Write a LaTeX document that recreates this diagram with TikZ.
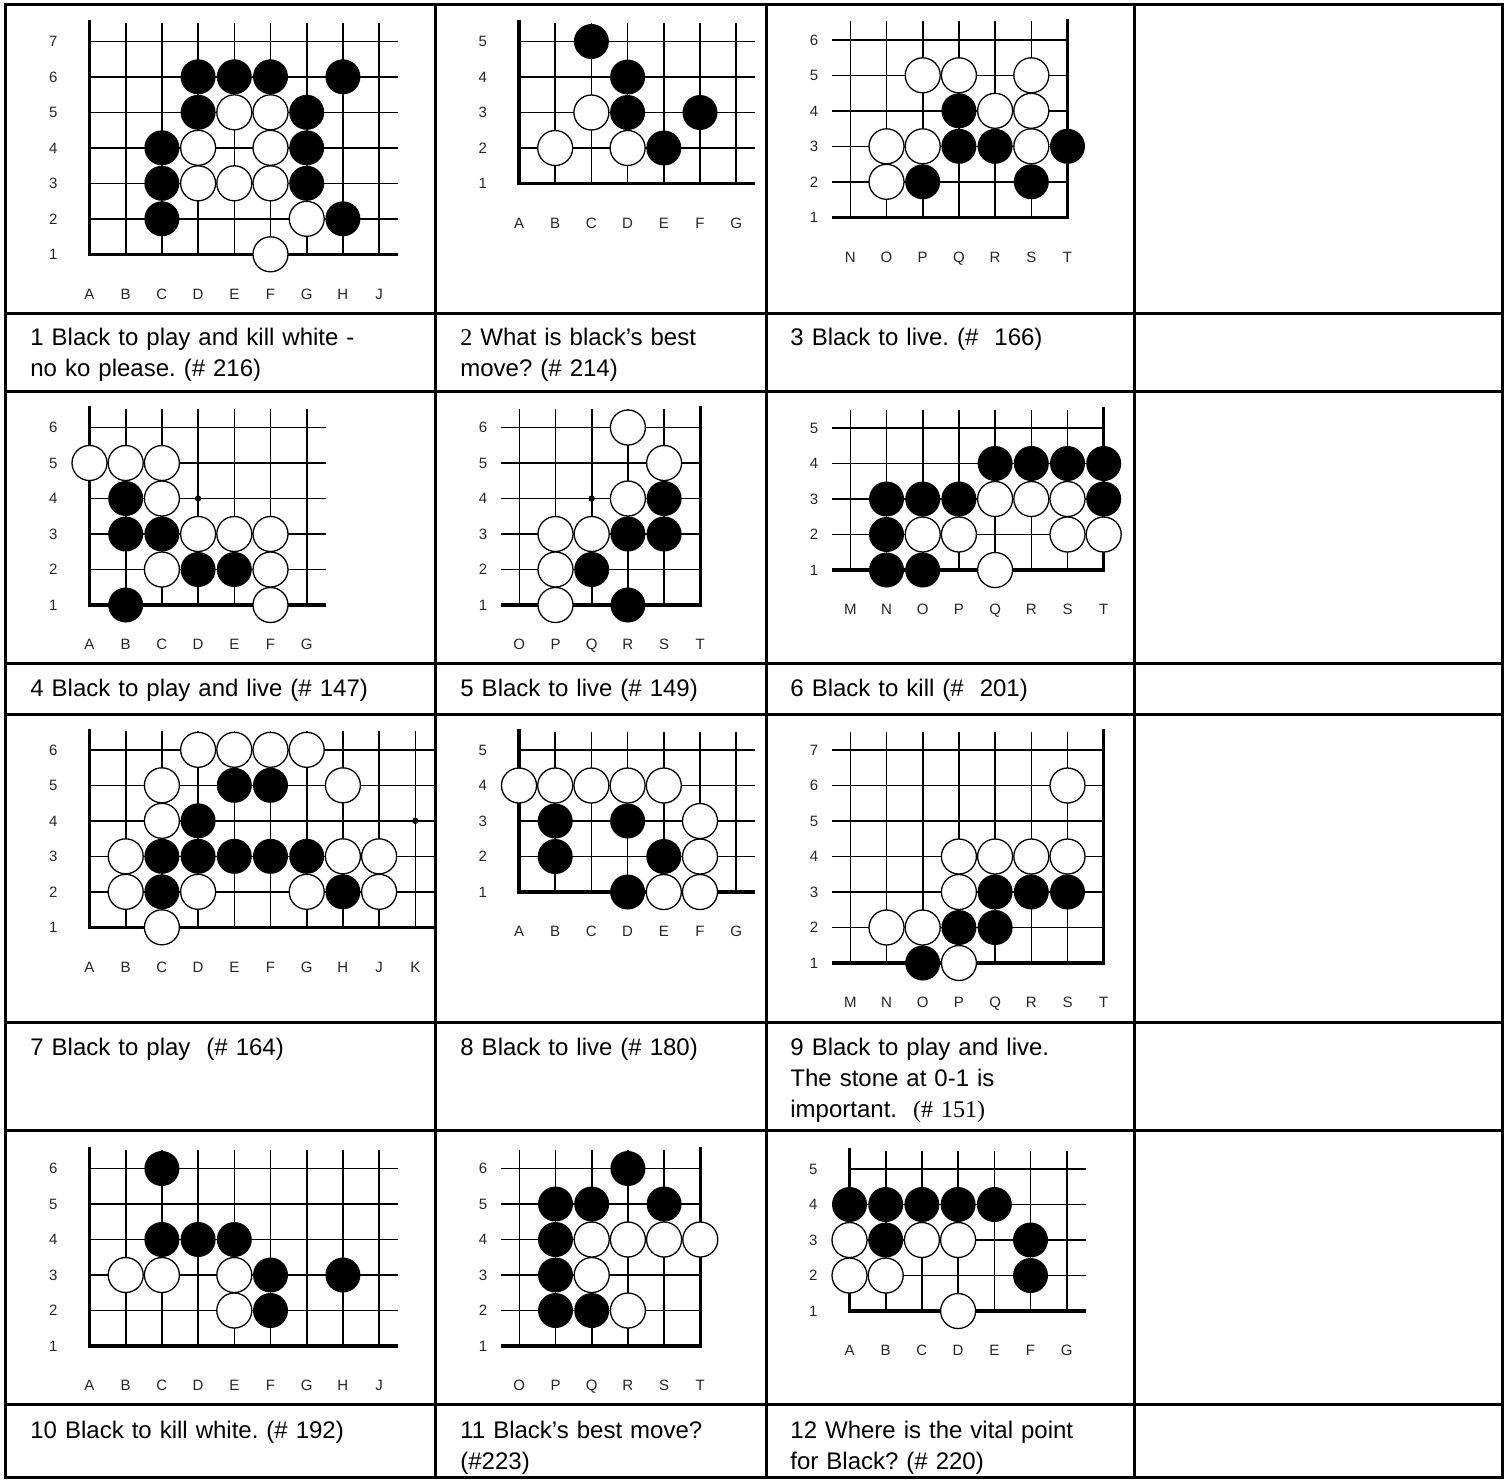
\documentclass[tikz,border=0pt]{standalone}
\usepackage{fontspec}
\setmainfont{Liberation Sans}
\newfontfamily\serifnum{Liberation Serif}
\frenchspacing

\tikzset{
  tableline/.style={line width=1.5pt},
  gridline/.style={line width=0.8pt},
  edgeline/.style={line width=1.6pt},
  blackstone/.style={fill=black},
  whitestone/.style={fill=white, draw=black, line width=0.65pt},
  hoshi/.style={fill=black},
  coordlabel/.style={font=\fontsize{7.5}{8}\selectfont, text=black!85, inner sep=0pt, text height=5.4pt, text depth=0pt},
  caption/.style={font=\fontsize{12}{15.5}\selectfont, anchor=base west, text width=190pt, align=left, inner sep=0pt}
}

% #1 columns, #2 rows, #3 column letters, #4 edge: 1 = left, 0 = right, #5 name prefix
\newcommand{\goboard}[5]{%
  \ifnum#4=1 \def\hfrom{1}\def\hto{#1+0.53}\else\def\hfrom{0.5}\def\hto{#1}\fi
  \foreach \gy in {2,...,#2} \draw[gridline] (\hfrom,\gy) -- (\hto,\gy);
  \foreach \gx in {1,...,#1} \draw[gridline] (\gx,1) -- (\gx,#2+0.52);
  \ifnum#4=1 \draw[edgeline] (1,#2+0.6) -- (1,1) -- (\hto,1);
  \else \draw[edgeline] (\hfrom,1) -- (#1,1) -- (#1,#2+0.6);\fi
  \foreach \gy in {1,...,#2} \node[coordlabel] (#5r\gy) at (0,\gy) {\gy};
  \foreach \gl [count=\gc] in {#3} \node[coordlabel] (#5c\gc) at (\gc,-0.11) {\gl};
}

\begin{document}
\begin{tikzpicture}[x=0.5pt,y=-0.5pt]
\useasboundingbox (0,0) rectangle (1508,1480);

% table
\draw[tableline] (5,4) rectangle (1502,1477);
\foreach \tx in {435.5,766,1134.5} \draw[tableline] (\tx,4) -- (\tx,1477);
\foreach \ty in {313,391,663,714,1022,1130,1404} \draw[tableline] (5,\ty) -- (1502,\ty);

% problem 1
\begin{scope}[shift={(53.3,289.8)}, x=18.1pt, y=17.75pt]
\goboard{9}{7}{A,B,C,D,E,F,G,H,J}{1}{pa}
\foreach \gx/\gy in {4/6,5/6,6/6,8/6,4/5,7/5,3/4,7/4,3/3,7/3,3/2,8/2} \fill[blackstone] (\gx,\gy) circle (8.75pt);
\foreach \gx/\gy in {5/5,6/5,4/4,6/4,4/3,5/3,6/3,7/2,6/1} \draw[whitestone] (\gx,\gy) circle (8.75pt);
\end{scope}

% problem 2
\begin{scope}[shift={(482.8,219)}, x=18.1pt, y=17.75pt]
\goboard{7}{5}{A,B,C,D,E,F,G}{1}{pb}
\foreach \gx/\gy in {3/5,4/4,4/3,6/3,5/2} \fill[blackstone] (\gx,\gy) circle (8.75pt);
\foreach \gx/\gy in {3/3,2/2,4/2} \draw[whitestone] (\gx,\gy) circle (8.75pt);
\end{scope}

% problem 3
\begin{scope}[shift={(814.1,252.8)}, x=18.1pt, y=17.75pt]
\goboard{7}{6}{N,O,P,Q,R,S,T}{0}{pc}
\foreach \gx/\gy in {4/4,4/3,5/3,7/3,3/2,6/2} \fill[blackstone] (\gx,\gy) circle (8.75pt);
\foreach \gx/\gy in {3/5,4/5,6/5,5/4,6/4,2/3,3/3,6/3,2/2} \draw[whitestone] (\gx,\gy) circle (8.75pt);
\end{scope}

% problem 4
\begin{scope}[shift={(53.3,640.5)}, x=18.1pt, y=17.75pt]
\goboard{7}{6}{A,B,C,D,E,F,G}{1}{pd}
\fill[hoshi] (4,4) circle (1.6pt);
\foreach \gx/\gy in {2/4,2/3,3/3,4/2,5/2,2/1} \fill[blackstone] (\gx,\gy) circle (8.75pt);
\foreach \gx/\gy in {1/5,2/5,3/5,3/4,4/3,5/3,6/3,3/2,6/2,6/1} \draw[whitestone] (\gx,\gy) circle (8.75pt);
\end{scope}

% problem 5
\begin{scope}[shift={(483.1,640.5)}, x=18.1pt, y=17.75pt]
\goboard{6}{6}{O,P,Q,R,S,T}{0}{pe}
\fill[hoshi] (3,4) circle (1.6pt);
\foreach \gx/\gy in {5/4,4/3,5/3,3/2,4/1} \fill[blackstone] (\gx,\gy) circle (8.75pt);
\foreach \gx/\gy in {4/6,5/5,4/4,2/3,3/3,2/2,2/1} \draw[whitestone] (\gx,\gy) circle (8.75pt);
\end{scope}

% problem 6
\begin{scope}[shift={(814.1,605.5)}, x=18.1pt, y=17.75pt]
\goboard{8}{5}{M,N,O,P,Q,R,S,T}{0}{pf}
\foreach \gx/\gy in {5/4,6/4,7/4,8/4,2/3,3/3,4/3,8/3,2/2,2/1,3/1} \fill[blackstone] (\gx,\gy) circle (8.75pt);
\foreach \gx/\gy in {5/3,6/3,7/3,3/2,4/2,7/2,8/2,5/1} \draw[whitestone] (\gx,\gy) circle (8.75pt);
\end{scope}

% problem 7
\begin{scope}[shift={(53.3,962.8)}, x=18.1pt, y=17.75pt]
\goboard{10}{6}{A,B,C,D,E,F,G,H,J,K}{1}{pg}
\fill[hoshi] (10,4) circle (1.6pt);
\foreach \gx/\gy in {5/5,6/5,4/4,3/3,4/3,5/3,6/3,7/3,3/2,8/2} \fill[blackstone] (\gx,\gy) circle (8.75pt);
\foreach \gx/\gy in {4/6,5/6,6/6,7/6,3/5,8/5,3/4,2/3,8/3,9/3,2/2,4/2,7/2,9/2,3/1} \draw[whitestone] (\gx,\gy) circle (8.75pt);
\end{scope}

% problem 8
\begin{scope}[shift={(482.8,927.5)}, x=18.1pt, y=17.75pt]
\goboard{7}{5}{A,B,C,D,E,F,G}{1}{ph}
\foreach \gx/\gy in {2/3,4/3,2/2,5/2,4/1} \fill[blackstone] (\gx,\gy) circle (8.75pt);
\foreach \gx/\gy in {1/4,2/4,3/4,4/4,5/4,6/3,6/2,5/1,6/1} \draw[whitestone] (\gx,\gy) circle (8.75pt);
\end{scope}

% problem 9
\begin{scope}[shift={(814.1,998.5)}, x=18.1pt, y=17.75pt]
\goboard{8}{7}{M,N,O,P,Q,R,S,T}{0}{pi}
\foreach \gx/\gy in {5/3,6/3,7/3,4/2,5/2,3/1} \fill[blackstone] (\gx,\gy) circle (8.75pt);
\foreach \gx/\gy in {7/6,4/4,5/4,6/4,7/4,4/3,2/2,3/2,4/1} \draw[whitestone] (\gx,\gy) circle (8.75pt);
\end{scope}

% problem 10
\begin{scope}[shift={(53.3,1381.5)}, x=18.1pt, y=17.75pt]
\goboard{9}{6}{A,B,C,D,E,F,G,H,J}{1}{pj}
\foreach \gx/\gy in {3/6,3/4,4/4,5/4,6/3,8/3,6/2} \fill[blackstone] (\gx,\gy) circle (8.75pt);
\foreach \gx/\gy in {2/3,3/3,5/3,5/2} \draw[whitestone] (\gx,\gy) circle (8.75pt);
\end{scope}

% problem 11
\begin{scope}[shift={(483.1,1381.5)}, x=18.1pt, y=17.75pt]
\goboard{6}{6}{O,P,Q,R,S,T}{0}{pk}
\foreach \gx/\gy in {4/6,2/5,3/5,5/5,2/4,2/3,2/2,3/2} \fill[blackstone] (\gx,\gy) circle (8.75pt);
\foreach \gx/\gy in {3/4,4/4,5/4,6/4,3/3,4/2} \draw[whitestone] (\gx,\gy) circle (8.75pt);
\end{scope}

% problem 12
\begin{scope}[shift={(813.3,1346.5)}, x=18.1pt, y=17.75pt]
\goboard{7}{5}{A,B,C,D,E,F,G}{1}{pl}
\foreach \gx/\gy in {1/4,2/4,3/4,4/4,5/4,2/3,6/3,6/2} \fill[blackstone] (\gx,\gy) circle (8.75pt);
\foreach \gx/\gy in {1/3,3/3,4/3,1/2,2/2,4/1} \draw[whitestone] (\gx,\gy) circle (8.75pt);
\end{scope}

% captions
\node[caption] (cap1) at (30,345) {1 Black to play and kill white -\\no ko please. (\# 216)};
\node[caption] (cap2) at (460,345) {{\serifnum 2} What is black’s best\\move? (\# 214)};
\node[caption] (cap3) at (790,345) {3 Black to live. (\#~~166)};
\node[caption] (cap4) at (30,696) {4 Black to play and live (\# 147)};
\node[caption] (cap5) at (460,696) {5 Black to live (\# 149)};
\node[caption] (cap6) at (790,696) {6 Black to kill (\#~~201)};
\node[caption] (cap7) at (30,1055) {7 Black to play~~(\# 164)};
\node[caption] (cap8) at (460,1055) {8 Black to live (\# 180)};
\node[caption] (cap9) at (790,1055) {9 Black to play and live.\\The stone at 0-1 is\\important.~~{\serifnum (\# 151)}};
\node[caption] (cap10) at (30,1438) {10 Black to kill white. (\# 192)};
\node[caption] (cap11) at (460,1438) {11 Black’s best move?\\(\#223)};
\node[caption] (cap12) at (790,1438) {12 Where is the vital point\\for Black? (\# 220)};
\end{tikzpicture}
\end{document}
